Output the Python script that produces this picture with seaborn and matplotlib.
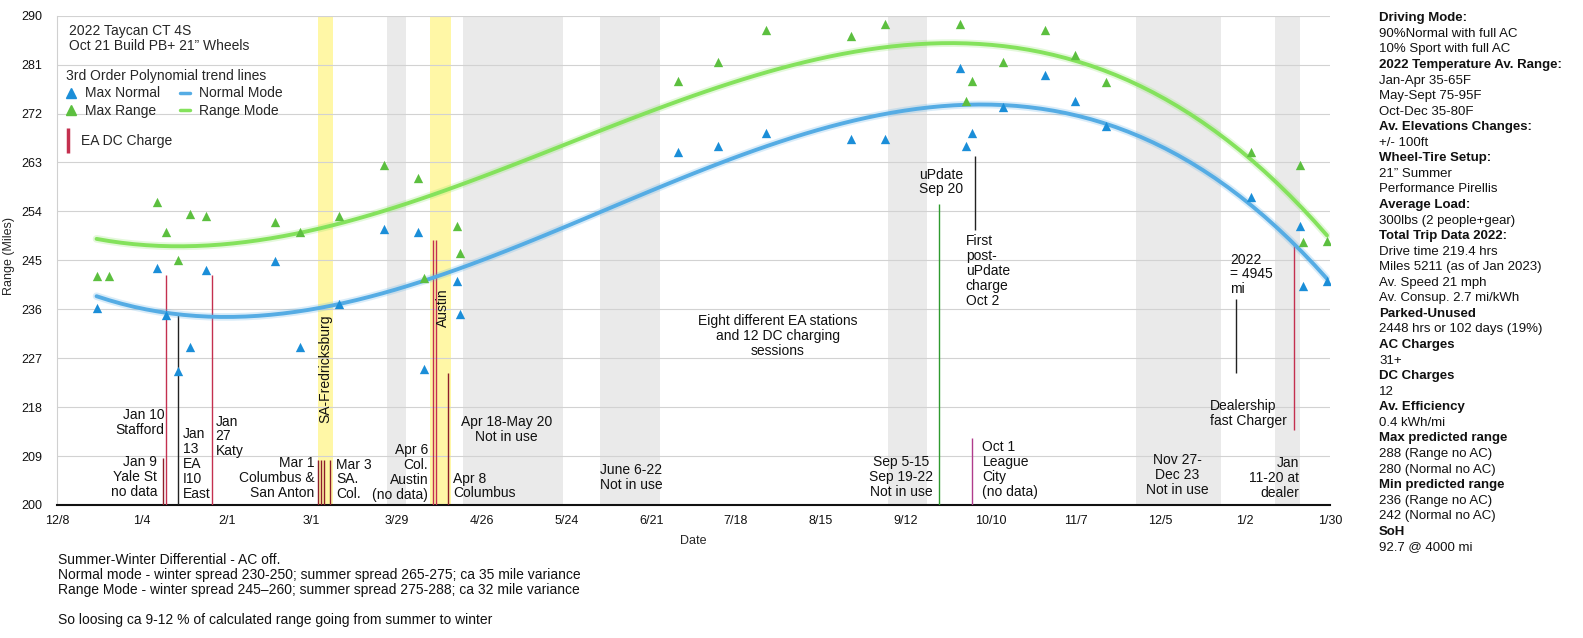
import numpy as np
import pandas as pd
import seaborn as sns
import matplotlib.pyplot as plt
from matplotlib.lines import Line2D
from matplotlib import patheffects as pe

# ---- data (days are counted from 12/7/2021) ----
origin = pd.Timestamp("2021-12-07")

dates = ["2021-12-20", "2021-12-24", "2022-01-09", "2022-01-12", "2022-01-16", "2022-01-20",
         "2022-01-25", "2022-02-17", "2022-02-25", "2022-03-10", "2022-03-25", "2022-04-05",
         "2022-04-07", "2022-04-18", "2022-04-19", "2022-06-30", "2022-07-13", "2022-07-29",
         "2022-08-26", "2022-09-06", "2022-10-01", "2022-10-03", "2022-10-05", "2022-10-15",
         "2022-10-29", "2022-11-08", "2022-11-18", "2023-01-05", "2023-01-21", "2023-01-22",
         "2023-01-30"]
max_normal = [236.3, np.nan, 243.5, 234.9, 224.7, 229.1, 243.2, 244.9, 229.1, 236.9, 250.8, 250.2,
              225.1, 241.2, 235.1, 264.9, 266.0, 268.5, 267.4, 267.4, 280.3, 266.0, 268.5, 273.2,
              279.0, 274.4, 269.7, 256.7, 251.3, 240.3, 241.2]
max_range = [242.2, 242.2, 255.8, 250.2, 245.0, 253.6, 253.1, 252.1, 250.2, 253.1, 262.5, 260.2,
             241.8, 251.3, 246.3, 277.9, 281.5, 287.3, 286.2, 288.5, 288.5, 274.4, 277.9, 281.5,
             287.3, 282.7, 277.8, 264.9, 262.5, 248.4, 248.6]

tick_labels = ["12/8", "1/4", "2/1", "3/1", "3/29", "4/26", "5/24", "6/21", "7/18", "8/15",
               "9/12", "10/10", "11/7", "12/5", "1/2", "1/30"]

span_start = ["2022-03-03", "2022-04-09", "2022-03-26", "2022-04-20", "2022-06-04",
              "2022-09-07", "2022-11-28", "2023-01-13"]
span_end = ["2022-03-08", "2022-04-16", "2022-04-01", "2022-05-23", "2022-06-24",
            "2022-09-20", "2022-12-26", "2023-01-21"]
span_kind = ["trip", "trip", "idle", "idle", "idle", "idle", "idle", "idle"]

event_dates = ["2022-01-11", "2022-01-12", "2022-01-16", "2022-01-27", "2022-03-03", "2022-03-04",
               "2022-03-05", "2022-03-07", "2022-04-10", "2022-04-11", "2022-04-15", "2022-09-24",
               "2022-10-05", "2022-10-06", "2022-12-31", "2023-01-19"]
event_low = [200, 200, 200, 200, 200, 200, 200, 200, 200, 200, 200, 200, 200, 250.6, 224.2, 213.8]
event_high = [208.6, 242.3, 234.9, 242.3, 208.3, 208.3, 208.3, 208.3, 248.7, 248.7, 224.2, 255.4,
              212.3, 264.2, 237.8, 248.2]
event_kind = ["dc", "ea", "note", "ea", "dc", "dc", "dc", "dc", "ea", "ea", "dc", "update",
              "ac", "note", "note", "ea"]

blue_pt, green_pt = "#1B8ED8", "#5CBF3F"
blue_ln, green_ln = "#55ACE4", "#84E25C"
span_colors = {"trip": "#FFF7A6", "idle": "#EAEAEA"}
event_colors = {"ea": "#C4304F", "dc": "#8E1E2A", "note": "#222222", "update": "#2E9A2E",
                "ac": "#B03C8C"}


def day(d):
    return (pd.Timestamp(d) - origin).days


df = pd.DataFrame({"date": pd.to_datetime(dates), "max_normal": max_normal, "max_range": max_range})
df["day"] = (df["date"] - origin).dt.days

sns.set_theme(style="whitegrid")
plt.rcParams["font.family"] = ["Liberation Sans", "DejaVu Sans"]

fig = plt.figure(figsize=(15.83, 6.38), dpi=100)
ax = fig.add_axes([0.0361, 0.2085, 0.8041, 0.7669])

for s, e, k in zip(span_start, span_end, span_kind):
    ax.axvspan(day(s), day(e), color=span_colors[k], lw=0, zorder=0)

ax.vlines([day(d) for d in event_dates], event_low, event_high,
          colors=[event_colors[k] for k in event_kind], lw=1, zorder=3)

for col, c in [("max_normal", blue_ln), ("max_range", green_ln)]:
    sns.regplot(data=df, x="day", y=col, order=3, scatter=False, ci=None, ax=ax,
                line_kws=dict(color=c, lw=2.8, zorder=4,
                              path_effects=[pe.Stroke(linewidth=5.5, foreground=c, alpha=0.22),
                                            pe.Normal()]))

sns.scatterplot(data=df, x="day", y="max_normal", marker="^", s=45, color=blue_pt,
                linewidth=0, ax=ax, zorder=5, legend=False)
sns.scatterplot(data=df, x="day", y="max_range", marker="^", s=45, color=green_pt,
                linewidth=0, ax=ax, zorder=5, legend=False)

ax.set_xlim(0, 420)
ax.set_ylim(200, 290)
ax.set_xticks(np.arange(0, 421, 28))
ax.set_xticklabels(tick_labels)
ax.set_yticks(np.arange(200, 291, 9))
ax.tick_params(axis="x", length=0, pad=7, labelsize=9, colors="#111111")
ax.tick_params(axis="y", length=0, pad=11, labelsize=9, colors="#111111")
ax.grid(axis="y", color="#D2D2D2", lw=0.8)
ax.grid(axis="x", visible=False)
ax.set_axisbelow(True)
for s in ["top", "right"]:
    ax.spines[s].set_visible(False)
ax.spines["left"].set_color("#D0D0D0")
ax.spines["left"].set_linewidth(0.8)
ax.spines["bottom"].set_color("#111111")
ax.spines["bottom"].set_linewidth(1.5)

ax.set_xlabel("Date", fontsize=9)
ax.xaxis.set_label_coords(0.5, -0.061)
ax.set_ylabel("Range (Miles)", fontsize=9)
ax.yaxis.set_label_coords(-0.033, 0.509)

# legend
handles = [Line2D([], [], marker="^", ls="none", color=blue_pt, ms=7),
           Line2D([], [], marker="^", ls="none", color=green_pt, ms=7),
           Line2D([], [], color=blue_ln, lw=2.5),
           Line2D([], [], color=green_ln, lw=2.5)]
leg = ax.legend(handles, ["Max Normal", "Max Range", "Normal Mode", "Range Mode"], ncol=2,
                title="3rd Order Polynomial trend lines", loc="upper left",
                bbox_to_anchor=(66 / 1583, 1 - 69 / 638), bbox_transform=fig.transFigure,
                frameon=False, fontsize=10, title_fontsize=10, handlelength=0.7,
                handletextpad=0.7, columnspacing=1.4, labelspacing=0.25, borderpad=0,
                borderaxespad=0, alignment="left")
ax.add_artist(leg)
ax.legend([Line2D([], [], marker="|", ls="none", color=event_colors["ea"], ms=18, mew=2.5)],
          ["EA DC Charge"], loc="upper left", bbox_to_anchor=(62 / 1583, 1 - 134 / 638),
          bbox_transform=fig.transFigure, frameon=False, fontsize=10, handlelength=0.8,
          handletextpad=0.6, borderpad=0, borderaxespad=0)

fig.text(69 / 1583, 1 - 31 / 638, "2022 Taycan CT 4S", fontsize=10, va="center")
fig.text(69 / 1583, 1 - 45.5 / 638, "Oct 21 Build PB+ 21\u201d Wheels", fontsize=10, va="center")

# annotations on the plot
notes = [
    ("Jan 10\nStafford", 35.4, 215.2, "right"),
    ("Jan 9\nYale St\nno data", 33.0, 205.1, "right"),
    ("Jan\n13\nEA\nI10\nEast", 41.6, 207.5, "left"),
    ("Jan\n27\nKaty", 52.3, 212.6, "left"),
    ("Mar 1\nColumbus &\nSan Anton", 84.9, 205.0, "right"),
    ("Mar 3\nSA.\nCol.", 92.0, 204.7, "left"),
    ("Apr 6\nCol.\nAustin\n(no data)", 122.4, 206.0, "right"),
    ("Apr 8\nColumbus", 130.7, 203.5, "left"),
    ("Apr 18-May 20\nNot in use", 148.2, 213.9, "center"),
    ("June 6-22\nNot in use", 189.3, 205.1, "center"),
    ("Eight different EA stations\nand 12 DC charging\nsessions", 237.7, 231.1, "center"),
    ("Sep 5-15\nSep 19-22\nNot in use", 278.4, 205.2, "center"),
    ("uPdate\nSep 20", 291.6, 259.4, "center"),
    ("First\npost-\nuPdate\ncharge\nOct 2", 299.8, 243.0, "left"),
    ("Oct 1\nLeague\nCity\n(no data)", 305.3, 206.5, "left"),
    ("Nov 27-\nDec 23\nNot in use", 369.7, 205.5, "center"),
    ("2022\n= 4945\nmi", 387.0, 242.4, "left"),
    ("Dealership\nfast Charger", 380.5, 216.8, "left"),
    ("Jan\n11-20 at\ndealer", 409.9, 205.0, "right"),
]
for txt, x, y, ha in notes:
    ax.text(x, y, txt, ha=ha, va="center", multialignment=ha, fontsize=10,
            linespacing=1.08, color="#111111", zorder=6)
ax.text(88.5, 225.0, "SA-Fredricksburg", rotation=90, ha="center", va="center",
        fontsize=10, color="#111111", zorder=6)
ax.text(127.2, 236.3, "Austin", rotation=90, ha="center", va="center",
        fontsize=10, color="#111111", zorder=6)

# side panel
panel = [
    ("Driving Mode:", True), ("90%Normal with full AC", False), ("10% Sport with full AC", False),
    ("2022 Temperature Av. Range:", True), ("Jan-Apr 35-65F", False), ("May-Sept 75-95F", False),
    ("Oct-Dec 35-80F", False), ("Av. Elevations Changes:", True), ("+/- 100ft", False),
    ("Wheel-Tire Setup:", True), ("21\u201d Summer", False), ("Performance Pirellis", False),
    ("Average Load:", True), ("300lbs (2 people+gear)", False),
    ("Total Trip Data 2022:", True), ("Drive time 219.4 hrs", False),
    ("Miles 5211 (as of Jan 2023)", False), ("Av. Speed 21 mph", False),
    ("Av. Consup. 2.7 mi/kWh", False), ("Parked-Unused", True),
    ("2448 hrs or 102 days (19%)", False), ("AC Charges", True), ("31+", False),
    ("DC Charges", True), ("12", False), ("Av. Efficiency", True), ("0.4 kWh/mi", False),
    ("Max predicted range", True), ("288 (Range no AC)", False), ("280 (Normal no AC)", False),
    ("Min predicted range", True), ("236 (Range no AC)", False), ("242 (Normal no AC)", False),
    ("SoH", True), ("92.7 @ 4000 mi", False),
]
for i, (txt, bold) in enumerate(panel):
    fig.text(1379 / 1583, 1 - (18.3 + 15.56 * i) / 638, txt, fontsize=9.5, va="center",
             fontweight="bold" if bold else "normal", color="#111111")

# footer
footer = [
    ("Summer-Winter Differential - AC off.", 560),
    ("Normal mode - winter spread 230-250; summer spread 265-275; ca 35 mile variance", 575),
    ("Range Mode - winter spread 245\u2013260; summer spread 275-288; ca 32 mile variance", 590),
    ("So loosing ca 9-12 % of calculated range going from summer to winter", 620),
]
for txt, y in footer:
    fig.text(58 / 1583, 1 - y / 638, txt, fontsize=10, va="center", color="#111111")

fig.savefig("out.png", dpi=100)
